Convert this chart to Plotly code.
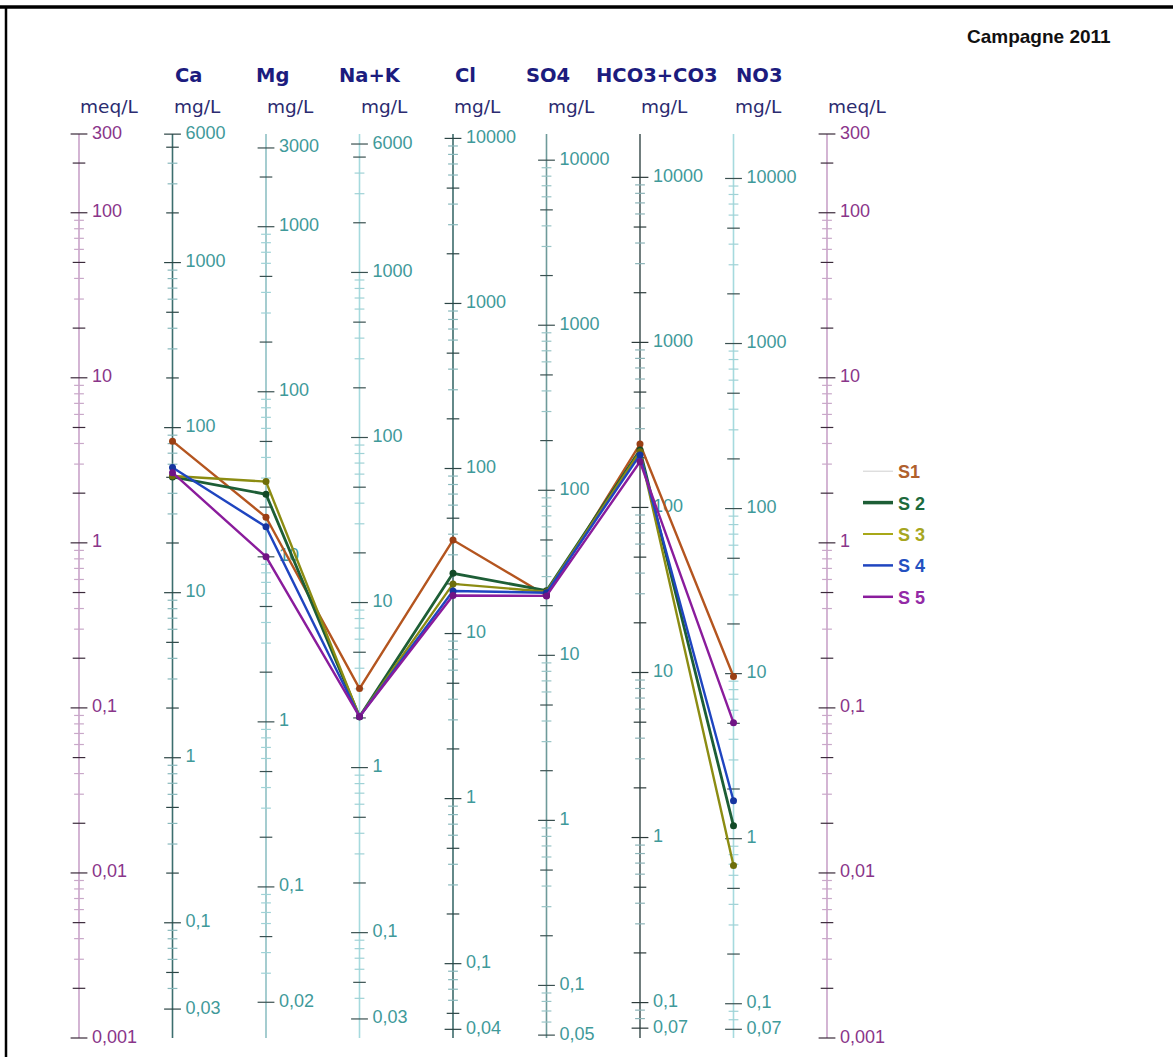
import math
import plotly.graph_objects as go

# ---------------- data (meq/L) ----------------
ions = ["Ca", "Mg", "Na+K", "Cl", "SO4", "HCO3+CO3", "NO3"]
eq_weights = [20.04, 12.15, 23.0, 35.45, 48.03, 61.02, 62.0]   # mg per meq
series_names = ["S1", "S 2", "S 3", "S 4", "S 5"]
S1 = [4.13, 1.43, 0.131, 1.04, 0.479, 3.97, 0.155]
S2 = [2.51, 1.97, 0.0885, 0.654, 0.513, 3.65, 0.0193]
S3 = [2.54, 2.35, 0.0885, 0.564, 0.506, 3.57, 0.0111]
S4 = [2.86, 1.25, 0.0885, 0.511, 0.499, 3.41, 0.0274]
S5 = [2.66, 0.825, 0.0885, 0.480, 0.477, 3.10, 0.0814]

meq_labels = [300, 100, 10, 1, 0.1, 0.01, 0.001]
Ca_labels = [6000, 1000, 100, 10, 1, 0.1, 0.03]
Mg_labels = [3000, 1000, 100, 10, 1, 0.1, 0.02]
NaK_labels = [6000, 1000, 100, 10, 1, 0.1, 0.03]
Cl_labels = [10000, 1000, 100, 10, 1, 0.1, 0.04]
SO4_labels = [10000, 1000, 100, 10, 1, 0.1, 0.05]
HCO3_labels = [10000, 1000, 100, 10, 1, 0.1, 0.07]
NO3_labels = [10000, 1000, 100, 10, 1, 0.1, 0.07]
MEQ_MIN, MEQ_MAX = 0.001, 300

# ---------------- styles ----------------
line_colors = ["#b4551f", "#1d5e36", "#8c8c12", "#1f45c0", "#8a1c9c"]
marker_colors = ["#9a3f14", "#134a28", "#6e6e0a", "#1535a0", "#701485"]
line_widths = [2.4, 2.8, 2.4, 2.4, 2.4]
legend_line_colors = ["#cfcfcf", "#1d5e36", "#a8a818", "#1f45c0", "#8a1c9c"]
legend_line_widths = [1, 3.5, 2, 2.5, 2.5]
legend_text_colors = ["#b0602c", "#1d6a3c", "#a6a620", "#2350c0", "#932aa6"]

axis_line_colors = ["#c9a2c9", "#3c6e6e", "#8fc0c4", "#a6dade", "#3d6b6b",
                    "#6e9a9a", "#4d5e5e", "#a6dade", "#c9a2c9"]
tick_dark = ["#3a2a3a", "#2c4545", "#3a5050", "#3a5050", "#2c4545",
             "#3a5050", "#2c3a3a", "#3a5050", "#3a2a3a"]
tick_light = ["#c9a8c9", "#88b8bc", "#9fd2d6", "#9fd2d6", "#88b8bc",
              "#98c4c6", "#8cb4b8", "#9fd2d6", "#c9a8c9"]
meq_text = "#8a358a"
ion_text = "#3f9a9a"
FONT = "Arial, Liberation Sans, sans-serif"

fig = go.Figure()

all_labels = [meq_labels, Ca_labels, Mg_labels, NaK_labels, Cl_labels,
              SO4_labels, HCO3_labels, NO3_labels, meq_labels]
all_weights = [1.0] + eq_weights + [1.0]


def fmt(v):
    if v >= 1:
        return str(int(round(v)))
    s = ("%.3f" % v).rstrip("0")
    return s.replace(".", ",")


for i, (labels, w) in enumerate(zip(all_labels, all_weights)):
    # axis line
    fig.add_trace(go.Scatter(x=[i, i], y=[MEQ_MIN, MEQ_MAX], mode="lines",
                             line=dict(color=axis_line_colors[i], width=1.6),
                             hoverinfo="skip", showlegend=False))
    lo, hi = MEQ_MIN * w, MEQ_MAX * w
    big, mid, small = [], [], []
    for k in range(int(math.floor(math.log10(lo))) - 1, int(math.ceil(math.log10(hi))) + 1):
        for d in range(1, 10):
            v = d * 10 ** k
            if v < lo * 0.9999 or v > hi * 1.0001:
                continue
            if any(abs(v - L) / L < 1e-6 for L in labels) or d == 1:
                big.append(v / w)
            elif d in (2, 5):
                mid.append(v / w)
            else:
                small.append(v / w)
    for vals, size, col in ((small, 7, tick_light[i]), (mid, 9, tick_dark[i]),
                            (big, 12, tick_dark[i])):
        fig.add_trace(go.Scatter(
            x=[i] * len(vals), y=vals, mode="markers",
            marker=dict(symbol="line-ew", size=size, color=col,
                        line=dict(color=col, width=1.2)),
            hoverinfo="skip", showlegend=False))
    # labels
    fig.add_trace(go.Scatter(
        x=[i] * len(labels), y=[v / w for v in labels], mode="markers+text",
        marker=dict(size=19, color="rgba(0,0,0,0)"),
        text=[fmt(v) for v in labels], textposition="middle right",
        textfont=dict(family=FONT, size=18,
                      color=meq_text if i in (0, 8) else ion_text),
        hoverinfo="skip", showlegend=False))

# data series
xs = list(range(1, 8))
for idx, ys in enumerate([S1, S2, S3, S4, S5]):
    fig.add_trace(go.Scatter(
        x=xs, y=ys, mode="lines+markers", name=series_names[idx],
        line=dict(color=line_colors[idx], width=line_widths[idx]),
        marker=dict(size=7, color=marker_colors[idx]),
        showlegend=False))

# legend-only entries
for idx in range(5):
    fig.add_trace(go.Scatter(
        x=[None], y=[None], mode="lines",
        name="<b><span style='color:%s'>%s</span></b>" % (legend_text_colors[idx], series_names[idx]),
        line=dict(color=legend_line_colors[idx], width=legend_line_widths[idx]),
        legendgroup="g%d" % idx, showlegend=True))

# headers
header_shift = [0, -12, -23, 0, -23, -46, 0]
annotations = []
for j, name in enumerate(ions):
    annotations.append(dict(x=j + 1, y=76, xref="x", yref="paper", text="<b>%s</b>" % name,
                            showarrow=False, xanchor="left", yanchor="middle",
                            xshift=header_shift[j],
                            font=dict(family="DejaVu Sans", size=19.5, color="#1c1c7e")))
units = ["meq/L"] + ["mg/L"] * 7 + ["meq/L"]
for i, u in enumerate(units):
    annotations.append(dict(x=i, y=106, xref="x", yref="paper", text=u,
                            showarrow=False, xanchor="left", yanchor="middle",
                            xshift=-1,
                            font=dict(family="DejaVu Sans", size=18.5, color="#2b2b70")))
annotations.append(dict(x=1113, y=36, xref="paper", yref="paper", text="<b>Campagne 2011</b>",
                        showarrow=False, xanchor="right", yanchor="middle",
                        font=dict(family=FONT, size=19, color="#111111")))

W, H = 1173, 1057
for a in annotations:
    if a["yref"] == "paper":
        a["y"] = 1 - a["y"] / H
    if a["xref"] == "paper":
        a["x"] = a["x"] / W

PX_DEC = 904 / math.log10(MEQ_MAX / MEQ_MIN)
ytop = math.log10(MEQ_MAX) + 134 / PX_DEC
ybot = math.log10(MEQ_MIN) - (H - 1038) / PX_DEC
xpx = 93.5
x0 = -79 / xpx
x1 = (W - 79) / xpx

fig.update_layout(
    width=W, height=H, autosize=False,
    margin=dict(l=0, r=0, t=0, b=0),
    paper_bgcolor="white", plot_bgcolor="white",
    xaxis=dict(range=[x0, x1], visible=False, fixedrange=True),
    yaxis=dict(type="log", range=[ybot, ytop], visible=False, fixedrange=True),
    annotations=annotations,
    showlegend=True,
    legend=dict(x=858 / W, y=1 - 453 / H, xanchor="left", yanchor="top",
                bgcolor="rgba(0,0,0,0)", borderwidth=0, tracegroupgap=5,
                font=dict(family=FONT, size=18)),
    shapes=[
        dict(type="line", xref="paper", yref="paper", x0=0.0, x1=1.0,
             y0=1 - 7 / H, y1=1 - 7 / H, line=dict(color="black", width=3.5)),
        dict(type="line", xref="paper", yref="paper", x0=6 / W, x1=6 / W,
             y0=0, y1=1 - 7 / H, line=dict(color="black", width=2.5)),
    ],
)

fig.write_html("out.html", config={"displayModeBar": False},
               post_script="document.body.style.margin='0';")
